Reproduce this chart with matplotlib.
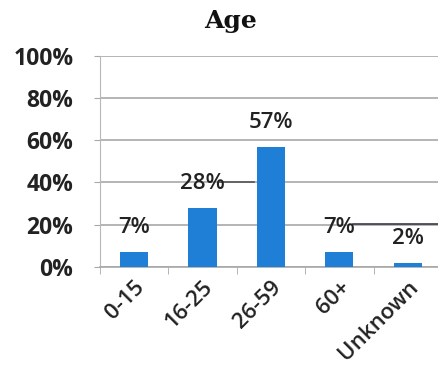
import matplotlib
matplotlib.use("Agg")
import matplotlib.pyplot as plt
import numpy as np

categories = ["0-15", "16-25", "26-59", "60+", "Unknown"]
values = [0.07, 0.28, 0.57, 0.07, 0.02]
labels = ["7%", "28%", "57%", "7%", "2%"]
yticks = [0, 0.2, 0.4, 0.6, 0.8, 1.0]
yticklabels = ["0%", "20%", "40%", "60%", "80%", "100%"]

plt.rcParams['font.family'] = ['Open Sans', 'DejaVu Sans']

fig = plt.figure(figsize=(4.38, 3.78), dpi=100)
ax = fig.add_axes([0.228, 0.294, 0.781, 0.558])
x = np.arange(len(categories))
ax.bar(x, values, width=0.41, color='#1F7ED6', zorder=3)
ax.set_xlim(-0.5, 4.5)
ax.set_ylim(0, 1.0)
ax.set_yticks(yticks)
ax.set_yticklabels(yticklabels, fontsize=16.5, fontweight='bold', color='#222222')
ax.yaxis.grid(True, color='#a8a8a8', linewidth=1.2, zorder=0)
ax.tick_params(axis='y', length=4, color='#a8a8a8', pad=15)
ax.set_xticks(x)
ax.set_xticklabels(categories, rotation=45, ha='right', rotation_mode='anchor',
                   fontsize=16, fontweight='semibold', color='#222222')
ax.set_xticks(np.arange(-0.5, 4.6, 1), minor=True)
ax.tick_params(axis='x', which='major', length=0, pad=7)
ax.tick_params(axis='x', which='minor', length=5, color='#a8a8a8')
for s in ['top', 'right']:
    ax.spines[s].set_visible(False)
ax.spines['left'].set_color('#b8b8b8')
ax.spines['bottom'].set_color('#a8a8a8')
ax.spines['bottom'].set_linewidth(1.2)

for xi, v, lab in zip(x, values, labels):
    ax.annotate(lab, (xi, v), xytext=(0, 10), textcoords='offset points',
                ha='center', va='bottom', fontsize=16, fontweight='semibold',
                color='#222222', zorder=4)

# darker line segments seen in the scan
ax.plot([3.2, 4.5], [0.205, 0.205], color='#3a3a4a', linewidth=1.2, zorder=2)
ax.plot([1.25, 1.75], [0.40, 0.40], color='#555555', linewidth=1.2, zorder=2)

fig.text(0.527, 0.945, "Age", ha='center', va='center', fontsize=18,
         fontweight='bold', family=['DejaVu Serif'], color='#111111')

fig.savefig("out.png", dpi=100)
